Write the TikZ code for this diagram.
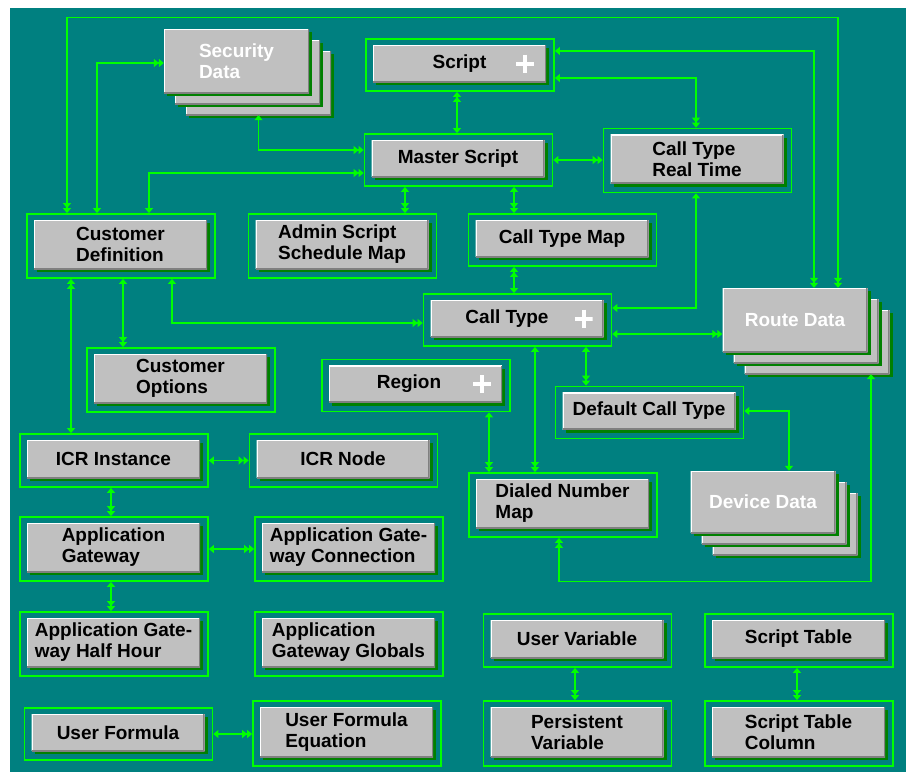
\documentclass[tikz,border=0pt]{standalone}
\usepackage{fontspec}
\setmainfont{Liberation Sans}
\usetikzlibrary{arrows.meta,shadows}
\definecolor{bgteal}{HTML}{008080}
\definecolor{linkgreen}{HTML}{00FF00}
\definecolor{boxgray}{HTML}{C0C0C0}
\definecolor{bevelgray}{HTML}{808080}
\definecolor{shadegreen}{HTML}{008000}
\tikzset{
	>={Triangle[length=5pt,width=8pt]},
	link/.style={draw=linkgreen, line width=1.2pt},
	entframe/.style={draw=linkgreen, line width=1.8pt, inner sep=0pt, minimum width=188pt},
	entbox/.style={fill=boxgray, inner sep=0pt, minimum width=173pt, align=left,
		font=\bfseries\fontsize{19}{21}\selectfont,
		drop shadow={shadow xshift=3pt, shadow yshift=-3pt, fill=shadegreen, opacity=1},
		path picture={
			\draw[white, line width=2pt] (path picture bounding box.south west) |- (path picture bounding box.north east);
			\draw[bevelgray, line width=3pt] (path picture bounding box.south west) -| (path picture bounding box.north east);
		}},
	storebox/.style={entbox, minimum width=145pt, text=white},
	plusmark/.style={minimum size=18pt, inner sep=0pt,
		path picture={
			\draw[white, line width=4pt] (path picture bounding box.west) -- (path picture bounding box.east)
				(path picture bounding box.north) -- (path picture bounding box.south);
		}}
}
\def\entity(#1)(#2,#3)#4#5{%
	\node[entframe, minimum height={#4+15}] (#1) at (#2,#3) {};
	\node[entbox, minimum height=#4] (#1-b) at ([xshift=-0.5pt,yshift=1.5pt]#1.center) {#5};
}
\def\datastore(#1)(#2,#3)#4#5{%
	\node[storebox, minimum height=#4] (#1-3) at ({#2+22},{#3+22}) {};
	\node[storebox, minimum height=#4] (#1-2) at ({#2+11},{#3+11}) {};
	\node[storebox, minimum height=#4] (#1) at (#2,#3) {#5};
}

\begin{document}
\begin{tikzpicture}[x=1pt, y=-1pt]
		%%%%% START %%%%%
		
		\useasboundingbox (0,0) rectangle (906,772);
		\fill[white] (0,0) rectangle (906,772);
		\fill[bgteal] (10,8) rectangle (906,772);
		
		\datastore(secdata)(236.5,61){64}{Security\\Data}
		\datastore(routedata)(795,320){64}{Route Data}
		\datastore(devdata)(763,502){62}{Device Data}
		
		\entity(script)(460,65){37}{Script}
		\node[plusmark] (script-plus) at ([xshift=-21pt]script-b.east) {};
		\entity(master)(458.5,160){37}{Master Script}
		\entity(ctrt)(697.5,160.5){49}{Call Type\\Real Time}
		\entity(custdef)(121,246){49}{Customer\\Definition}
		\entity(admin)(342.5,246){49}{Admin Script\\Schedule Map}
		\entity(ctmap)(562.5,240){37}{Call Type Map}
		\entity(calltype)(517.5,320){37}{Call Type\kern20pt}
		\node[plusmark] (calltype-plus) at ([xshift=-20pt]calltype-b.east) {};
		\entity(custopt)(181,380){49}{Customer\\Options}
		\entity(region)(416,385.5){37}{Region\kern13pt}
		\node[plusmark] (region-plus) at ([xshift=-20pt]region-b.east) {};
		\entity(dct)(649.5,412.5){37}{Default Call Type}
		\entity(icrinst)(114,460.5){38}{ICR Instance}
		\entity(icrnode)(343.5,460.5){38}{ICR Node}
		\entity(dnm)(563,505){49}{Dialed Number\\Map}
		\entity(appgw)(114,549){49}{Application\\Gateway}
		\entity(agconn)(349,549){49}{Application Gate-\\way Connection}
		\entity(aghh)(114,644){49}{Application Gate-\\way Half Hour}
		\entity(agglob)(349,644){49}{Application\\Gateway Globals}
		\entity(uservar)(577.5,640.5){38}{User Variable}
		\entity(scripttab)(799,640.5){38}{Script Table}
		\entity(userform)(118.5,734){37}{User Formula}
		\entity(ufeq)(347,733.5){50}{User Formula\\Equation}
		\entity(persvar)(577.5,733.5){50}{Persistent\\Variable}
		\entity(stcol)(799,733.5){50}{Script Table\\Column}
		
		% links
		\draw[link, <<->>] ([xshift=-54pt]custdef.north) -- ++(0,-196) -| ([xshift=43pt]routedata.north);
		\draw[link, <->>] ([xshift=-24pt]custdef.north) |- ([yshift=-2pt]secdata.west);
		\draw[link, <->>] (secdata-3.south) |- ([yshift=10pt]master.west);
		\draw[link, <->>] ([xshift=28pt]custdef.north) |- ([yshift=-13pt]master.west);
		\draw[link, <<->] ([xshift=-3pt]script.south) -- ([xshift=-1.5pt]master.north);
		\draw[link, <->>] ([yshift=14pt]script.east) -| ([xshift=19pt]routedata.north);
		\draw[link, <->>] ([yshift=-13pt]script.east) -| ([xshift=-1.5pt]ctrt.north);
		\draw[link, <->>] (master.east) -- (master.east -| ctrt.west);
		\draw[link, <->>] ([xshift=-53.5pt]master.south) -- ([xshift=62.5pt]admin.north);
		\draw[link, <->>] ([xshift=55.5pt]master.south) -- ([xshift=-48.5pt]ctmap.north);
		\draw[link, <<->] ([xshift=-48.5pt]ctmap.south) -- ([xshift=-3.5pt]calltype.north);
		\draw[link, <->] ([xshift=-1.5pt]ctrt.south) |- ([yshift=12pt]calltype.east);
		\draw[link, <->>] ([yshift=-14pt]calltype.east) -- ([yshift=-14pt]routedata.west);
		\draw[link, <->>] ([xshift=51pt]custdef.south) |- ([yshift=-3pt]calltype.west);
		\draw[link, <->>] ([xshift=2pt]custdef.south) -- ([xshift=-58pt]custopt.north);
		\draw[link, <<->] ([xshift=-50pt]custdef.south) -- ([xshift=-43pt]icrinst.north);
		\draw[link, <->>] (icrinst.east) -- (icrnode.west);
		\draw[link, <->>] ([xshift=-3pt]icrinst.south) -- ([xshift=-3pt]appgw.north);
		\draw[link, <->>] (appgw.east) -- (agconn.west);
		\draw[link, <->>] ([xshift=-3pt]appgw.south) -- ([xshift=-3pt]aghh.north);
		\draw[link, <->>] ([xshift=17.5pt]calltype.south) -- ([xshift=-28pt]dnm.north);
		\draw[link, <->>] ([xshift=68.5pt]calltype.south) -- ([xshift=-63.5pt]dct.north);
		\draw[link, <->>] ([xshift=73pt]region.south) -- ([xshift=-74pt]dnm.north);
		\draw[link, <->] ([yshift=1.5pt]dct.east) -| ([xshift=26pt]devdata.north);
		\draw[link, <->>] ([xshift=54pt]routedata-3.south) -- ++(0,207) -| ([xshift=-4pt]dnm.south);
		\draw[link, <->>] (userform.east) -- (userform.east -| ufeq.west);
		\draw[link, <->>] ([xshift=-2.5pt]uservar.south) -- ([xshift=-2.5pt]persvar.north);
		\draw[link, <->>] ([xshift=-2pt]scripttab.south) -- ([xshift=-2pt]stcol.north);
		
		%%%%% END %%%%%
\end{tikzpicture}
\end{document}
